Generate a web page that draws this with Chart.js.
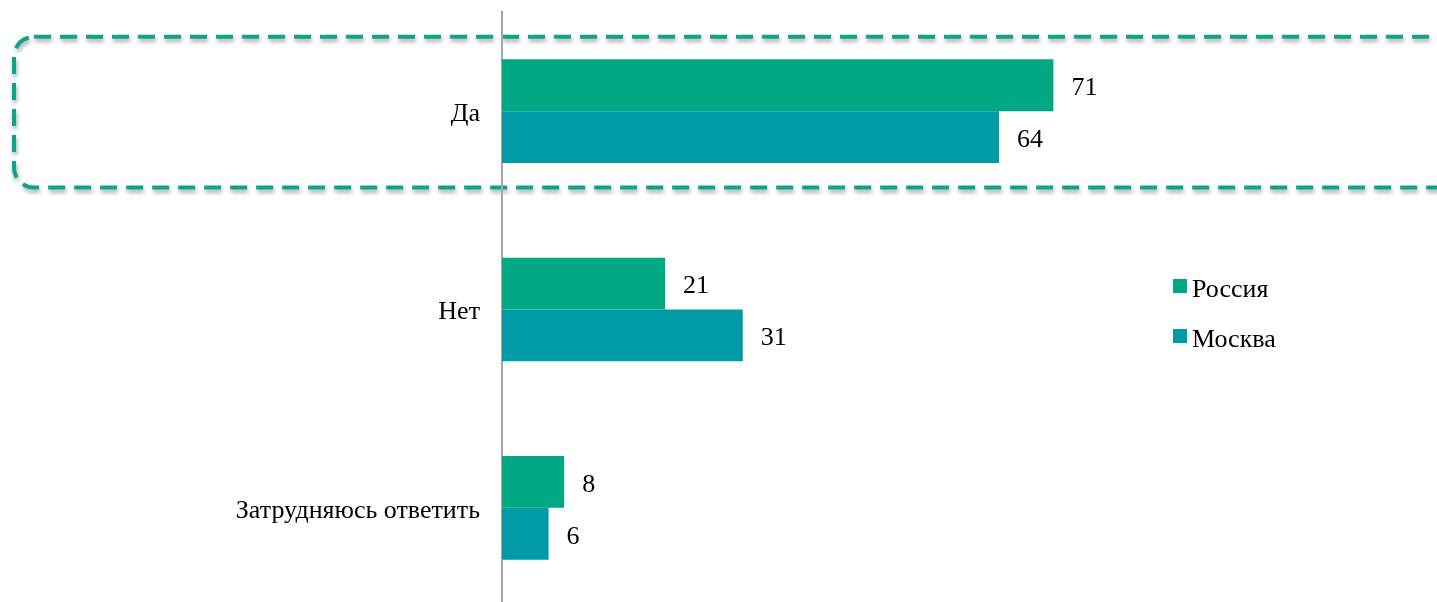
<!DOCTYPE html>
<html>
<head>
<meta charset="utf-8">
<script src="https://cdn.jsdelivr.net/npm/chart.js@4.4.0/dist/chart.umd.min.js"></script>
<style>
  html, body { margin: 0; padding: 0; background: #fff; overflow: hidden; }
  .chart-container { position: relative; width: 1437px; height: 620px; }
</style>
</head>
<body>
<div class="chart-container">
  <canvas id="answersChart"></canvas>
</div>
<script>
// Data
const categories = ['Да', 'Нет', 'Затрудняюсь ответить'];
const seriesNames = ['Россия', 'Москва'];
const russiaValues = [71, 21, 8];
const moscowValues = [64, 31, 6];
const seriesColors = ['#00A883', '#009BA7'];

const FONT = '"Liberation Serif", "Times New Roman", serif';

// value labels to the right of each bar
const valueLabels = {
   id: 'valueLabels',
   afterDatasetsDraw(chart) {
      const ctx = chart.ctx;
      ctx.save();
      ctx.font = `26px ${FONT}`;
      ctx.fillStyle = '#000';
      ctx.textAlign = 'left';
      ctx.textBaseline = 'middle';
      chart.data.datasets.forEach((ds, i) => {
         chart.getDatasetMeta(i).data.forEach((bar, j) => {
            ctx.fillText(ds.data[j], bar.x + 18, bar.y + 3);
         });
      });
      ctx.restore();
   }
};

// dashed rounded frame around the first category
const highlightBox = {
   id: 'highlightBox',
   beforeDraw(chart) {
      const ctx = chart.ctx;
      const y = chart.scales.y;
      const cy = y.getPixelForValue(0) + 1;
      const half = (y.getPixelForValue(1) - y.getPixelForValue(0)) * 0.38;
      ctx.save();
      ctx.strokeStyle = '#0FA38B';
      ctx.lineWidth = 4;
      ctx.setLineDash([17, 9]);
      ctx.shadowColor = 'rgba(0,0,0,0.35)';
      ctx.shadowBlur = 4;
      ctx.shadowOffsetX = 1;
      ctx.shadowOffsetY = 3;
      ctx.beginPath();
      ctx.roundRect(14, cy - half, chart.width + 40, half * 2, 20);
      ctx.stroke();
      ctx.restore();
   }
};

// legend drawn at the right side
const sideLegend = {
   id: 'sideLegend',
   afterDraw(chart) {
      const ctx = chart.ctx;
      ctx.save();
      ctx.font = `26px ${FONT}`;
      ctx.textBaseline = 'alphabetic';
      ctx.textAlign = 'left';
      chart.data.datasets.forEach((ds, i) => {
         const top = 279 + i * 50;
         ctx.fillStyle = ds.backgroundColor;
         ctx.fillRect(1173, top, 14, 14);
         ctx.fillStyle = '#000';
         ctx.fillText(ds.label, 1192, top + 18);
      });
      ctx.restore();
   }
};

new Chart(document.getElementById('answersChart'), {
   type: 'bar',
   data: {
      labels: categories,
      datasets: [{
         label: seriesNames[0],
         data: russiaValues,
         backgroundColor: seriesColors[0],
         borderWidth: 0
      }, {
         label: seriesNames[1],
         data: moscowValues,
         backgroundColor: seriesColors[1],
         borderWidth: 0
      }]
   },
   options: {
      indexAxis: 'y',
      responsive: true,
      maintainAspectRatio: false,
      animation: false,
      categoryPercentage: 0.523,
      barPercentage: 1,
      layout: {
         padding: { top: 12, bottom: 13, right: 3, left: 0 }
      },
      plugins: {
         legend: { display: false },
         tooltip: { enabled: false }
      },
      scales: {
         x: {
            display: false,
            min: 0,
            max: 120
         },
         y: {
            grid: { display: false },
            border: { color: '#A6A6A6', width: 2 },
            ticks: {
               color: '#000',
               padding: 14,
               labelOffset: 3,
               font: { family: FONT, size: 26 }
            },
            afterFit(scale) {
               scale.width = 502;
               scale.paddingTop = 0;
               scale.paddingBottom = 0;
            }
         }
      }
   },
   plugins: [highlightBox, valueLabels, sideLegend]
});
</script>
</body>
</html>
